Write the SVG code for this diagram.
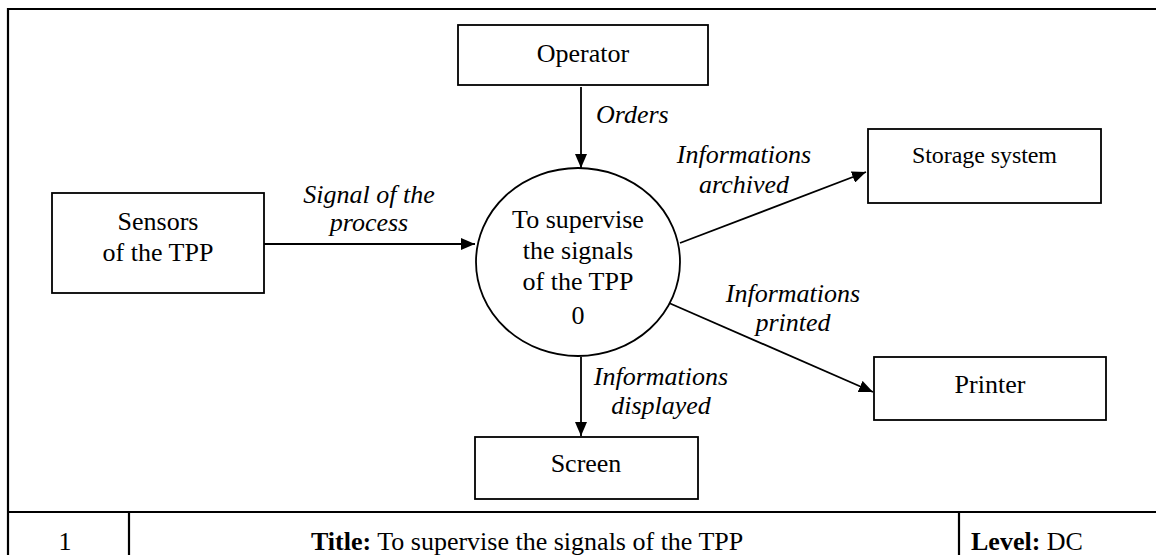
<svg xmlns="http://www.w3.org/2000/svg" width="1156" height="555" viewBox="0 0 1156 555">
<style>
  .t { font-family: "Liberation Serif", "Times New Roman", serif; font-size: 26px; fill: #000; }
  .c { text-anchor: middle; }
  .i { font-style: italic; }
  .b { font-weight: bold; }
  .box { fill: #fff; stroke: #000; stroke-width: 1.8; }
  .frame { fill: none; stroke: #000; stroke-width: 2.2; }
  .edge { fill: none; stroke: #000; stroke-width: 1.8; }
</style>
<defs>
  <marker id="arr" viewBox="0 0 14 12" refX="14" refY="6" markerWidth="14" markerHeight="12" markerUnits="userSpaceOnUse" orient="auto">
    <path d="M0,0 L14,6 L0,12 Z" fill="#000"/>
  </marker>
</defs>
<rect width="1156" height="555" fill="#fff"/>
<g id="frame">
  <path class="frame" d="M8,555 L8,9 L1160,9"/>
  <path class="frame" d="M8,512 L1160,512"/>
  <path class="frame" d="M129,512 L129,560 M959,512 L959,560"/>
  <text class="t c" x="65" y="550">1</text>
  <text class="t" x="311" y="550"><tspan class="b">Title:</tspan> To supervise the signals of the TPP</text>
  <text class="t" x="971" y="550"><tspan class="b">Level:</tspan> DC</text>
</g>
<g id="connectors">
  <line class="edge" x1="581" y1="87" x2="581" y2="168" marker-end="url(#arr)"/>
  <text class="t i" x="596" y="123">Orders</text>
  <line class="edge" x1="264" y1="244" x2="475" y2="244" marker-end="url(#arr)"/>
  <text class="t i c" x="369" y="203">Signal of the</text>
  <text class="t i c" x="369" y="231">process</text>
  <line class="edge" x1="680" y1="243" x2="866" y2="172" marker-end="url(#arr)"/>
  <text class="t i c" x="744" y="163">Informations</text>
  <text class="t i c" x="744" y="193">archived</text>
  <line class="edge" x1="669" y1="303" x2="873" y2="392" marker-end="url(#arr)"/>
  <text class="t i c" x="793" y="302">Informations</text>
  <text class="t i c" x="793" y="331">printed</text>
  <line class="edge" x1="581" y1="357" x2="581" y2="436" marker-end="url(#arr)"/>
  <text class="t i c" x="661" y="385">Informations</text>
  <text class="t i c" x="661" y="414">displayed</text>
</g>
<g id="process">
  <ellipse class="box" cx="578" cy="262" rx="102" ry="94"/>
  <text class="t c" x="578" y="228">To supervise</text>
  <text class="t c" x="578" y="259">the signals</text>
  <text class="t c" x="578" y="290">of the TPP</text>
  <text class="t c" x="578" y="324">0</text>
</g>
<g id="operator">
  <rect class="box" x="458" y="25" width="250" height="60"/>
  <text class="t c" x="583" y="62">Operator</text>
</g>
<g id="sensors">
  <rect class="box" x="52" y="193" width="212" height="100"/>
  <text class="t c" x="158" y="230">Sensors</text>
  <text class="t c" x="158" y="261">of the TPP</text>
</g>
<g id="storage">
  <rect class="box" x="868" y="129" width="233" height="74"/>
  <text class="t c" x="984.5" y="163" style="font-size:24px" textLength="145" lengthAdjust="spacing">Storage system</text>
</g>
<g id="printer">
  <rect class="box" x="874" y="357" width="232" height="63"/>
  <text class="t c" x="990" y="393">Printer</text>
</g>
<g id="screen">
  <rect class="box" x="475" y="437" width="223" height="62"/>
  <text class="t c" x="586" y="472">Screen</text>
</g>
</svg>
